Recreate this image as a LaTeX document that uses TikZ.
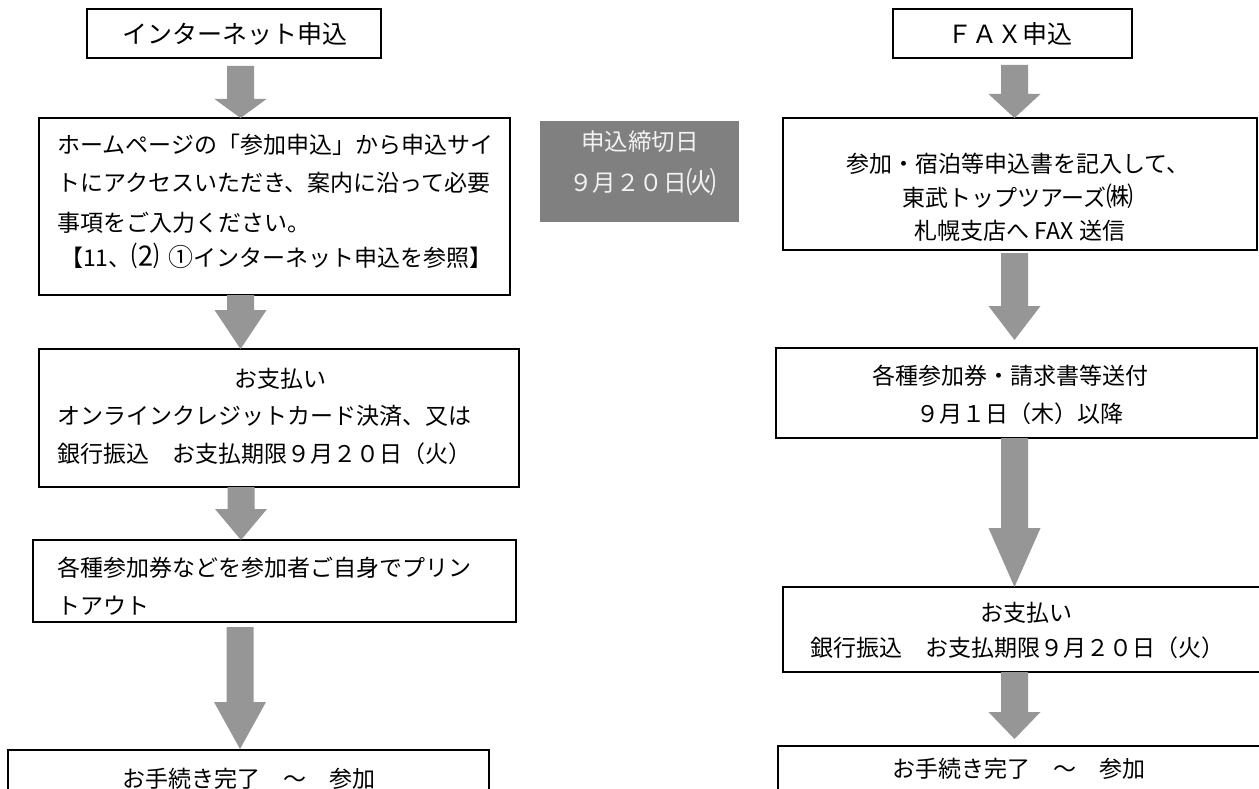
\documentclass[tikz,border=0pt]{standalone}
\usepackage{fontspec}
\setmainfont{Noto Sans CJK JP}
\usetikzlibrary{calc}
\definecolor{arrowgray}{RGB}{150,150,150}
\definecolor{boxgray}{RGB}{128,128,128}
\definecolor{lighttext}{RGB}{242,242,242}
% #1 axis x, #2 from node, #3 to node, #4 start gap, #5 head length, #6 end gap
\newcommand\fatarrow[6]{%
  \fill[arrowgray] let \p1=(#2.south), \p2=(#3.north) in
    (#1pt-13.5pt,\y1-#4pt) -- (#1pt+13.5pt,\y1-#4pt) --
    (#1pt+13.5pt,\y2+#6pt+#5pt) -- (#1pt+26pt,\y2+#6pt+#5pt) --
    (#1pt,\y2+#6pt) --
    (#1pt-26pt,\y2+#6pt+#5pt) -- (#1pt-13.5pt,\y2+#6pt+#5pt) -- cycle;}
\begin{document}
\begin{tikzpicture}[x=1pt,y=-1pt,
  box/.style={draw=black, line width=1.5pt, fill=white, rectangle,
    inner sep=0pt, outer sep=0pt, anchor=north west},
  graybox/.style={fill=boxgray, rectangle, inner sep=0pt, outer sep=0pt,
    anchor=north west},
  txt/.style={inner sep=0pt, font=\fontsize{23}{23}\selectfont},
  ttl/.style={inner sep=0pt, font=\fontsize{25}{25}\selectfont},
  gtxt/.style={inner sep=0pt, text=lighttext, font=\fontsize{23.5}{23.5}\selectfont}]
\useasboundingbox (0,0) rectangle (1259,789);
\clip (0,0) rectangle (1259,789);
\fill[white] (0,0) rectangle (1259,789);

% ---------- left column ----------
\node[box, minimum width=294pt, minimum height=49pt] (b1) at (87,9) {};
\node[ttl, anchor=base] (t1) at (235,43.5) {インターネット申込};

\node[box, minimum width=471pt, minimum height=177pt] (b2) at (39,118) {};
\node[txt, anchor=base west] (t2a) at (57,154) {ホームページの「参加申込」から申込サイ};
\node[txt, anchor=base west] (t2b) at (57,192) {トにアクセスいただき、案内に沿って必要};
\node[txt, anchor=base west] (t2c) at (57,231) {事項をご入力ください。};
\node[txt, anchor=base west] (t2d) at (60,266) {【11、{\fontsize{28}{28}\selectfont ⑵}\hspace{0.4em}{\fontsize{25}{25}\selectfont ①}インターネット申込を参照】};

\node[box, minimum width=480pt, minimum height=138pt] (b3) at (39,349) {};
\node[txt, anchor=base] (t3a) at (280,387) {お支払い};
\node[txt, anchor=base west] (t3b) at (57,424) {オンラインクレジットカード決済、又は};
\node[txt, anchor=base west] (t3c) at (57,462) {銀行振込　お支払期限９月２０日（火）};

\node[box, minimum width=483pt, minimum height=82pt] (b4) at (33,540) {};
\node[txt, anchor=base west] (t4a) at (57,576) {各種参加券などを参加者ご自身でプリン};
\node[txt, anchor=base west] (t4b) at (57,614) {トアウト};

\node[box, minimum width=481pt, minimum height=80pt] (b5) at (8,750) {};
\node[txt, anchor=base] (t5) at (248.5,787) {お手続き完了　～　参加};

% ---------- middle gray box ----------
\node[graybox, minimum width=199pt, minimum height=101pt] (g) at (540,121) {};
\node[gtxt, anchor=base] (g1) at (640,151) {申込締切日};
\node[gtxt, anchor=base] (g2) at (643,192) {９月２０日{\fontsize{30}{30}\selectfont\raisebox{-1.5pt}{㈫}}};

% ---------- right column ----------
\node[box, minimum width=239pt, minimum height=49pt] (r1) at (893,9) {};
\node[ttl, anchor=base] (s1) at (1010,43.5) {ＦＡＸ申込};

\node[box, minimum width=474pt, minimum height=132pt] (r2) at (783,118) {};
\node[txt, anchor=base] (s2a) at (1018,172) {参加・宿泊等申込書を記入して、};
\node[txt, anchor=base] (s2b) at (1018,206) {東武トップツアーズ{\fontsize{27}{27}\selectfont ㈱}};
\node[txt, anchor=base] (s2c) at (1020,239) {札幌支店へ FAX 送信};

\node[box, minimum width=481pt, minimum height=90pt] (r3) at (776,348) {};
\node[txt, anchor=base] (s3a) at (1010,384) {各種参加券・請求書等送付};
\node[txt, anchor=base] (s3b) at (1020,422) {９月１日（木）以降};

\node[box, minimum width=500pt, minimum height=85pt] (r4) at (783,587) {};
\node[txt, anchor=base] (s4a) at (1026,621) {お支払い};
\node[txt, anchor=base west] (s4b) at (810,656) {銀行振込　お支払期限９月２０日（火）};

\node[box, minimum width=500pt, minimum height=80pt] (r5) at (778,746) {};
\node[txt, anchor=base] (s5) at (1019,777) {お手続き完了　～　参加};

% ---------- arrows ----------
\fatarrow{240.5}{b1}{b2}{8}{19}{0}
\fatarrow{240.5}{b2}{b3}{0}{39}{0}
\fatarrow{241}{b3}{b4}{0}{31}{0}
\fatarrow{240}{b4}{b5}{5}{47}{1}
\fatarrow{1014.5}{r1}{r2}{7}{24}{0}
\fatarrow{1014.5}{r2}{r3}{3}{34}{8}
\fatarrow{1014.5}{r3}{r4}{0}{59}{0}
\fatarrow{1014.5}{r4}{r5}{0}{27}{7}
\end{tikzpicture}
\end{document}
